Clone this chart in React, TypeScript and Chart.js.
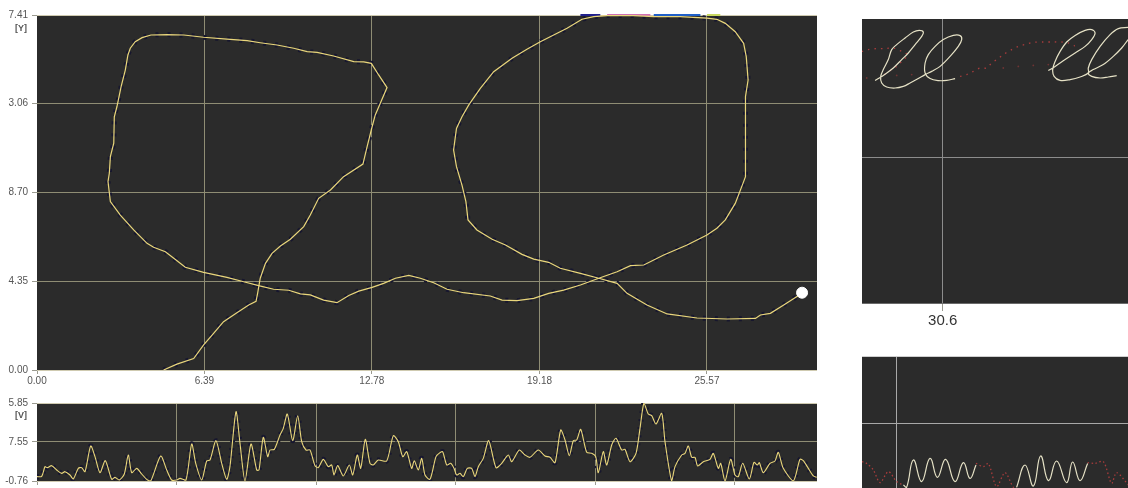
import React, { useEffect, useRef } from "react";
import { Chart, registerables } from "chart.js";

Chart.register(...registerables);

const mainXTicks = [0, 6.39, 12.78, 19.18, 25.57];
const mainXLabels = ["0.00", "6.39", "12.78", "19.18", "25.57"];
const mainYTicks = [0, 4.35, 8.7, 13.06, 17.41];
const mainYLabels = ["0.00", "4.35", "8.70", "3.06", "7.41"];

const pathX = [4.83,5.34,5.98,6.36,6.74,7.12,7.63,8.08,8.36,8.42,8.52,8.72,8.97,9.29,9.67,10.18,10.43,10.75,11.2,11.7,12.44,12.6,12.79,12.91,13.36,13.04,12.76,12.47,12.09,11.32,10.69,10.31,9.8,9.16,8.52,8.02,7.25,6.36,5.6,4.96,4.35,4.01,3.75,3.56,3.47,3.37,3.21,3.05,2.95,2.93,2.8,2.76,2.71,2.8,3.18,3.69,4.2,4.45,4.9,5.22,5.66,6.36,7.25,7.89,8.46,9.03,9.61,10.05,10.43,10.94,11.45,11.9,12.28,12.79,13.23,13.68,14.19,14.63,15.14,15.65,16.28,17.3,17.75,18.32,18.96,19.53,20.1,20.74,21.44,22.14,22.65,23.16,23.92,24.81,25.57,25.95,26.27,26.65,26.97,27.04,27.04,27.14,27.07,26.97,26.65,26.27,25.95,25.57,24.55,23.54,22.77,21.76,21.25,20.8,20.23,19.21,18.7,18.13,17.43,16.92,16.48,16.22,16.01,15.9,16.01,16.22,16.37,16.45,16.79,17.37,17.88,18.51,18.96,19.53,19.97,20.74,21.44,22.14,22.52,23.28,24.05,25.19,26.34,27.42,27.61,27.99,28.5,29.2];
const pathY = [0,0.29,0.56,1.23,1.8,2.37,2.81,3.19,3.37,3.76,4.5,5.23,5.72,6.08,6.41,7.03,7.6,8.42,8.83,9.48,10.1,10.95,11.93,12.51,13.85,14.47,15.04,15.11,15.12,15.4,15.58,15.61,15.78,15.94,16.05,16.15,16.23,16.32,16.43,16.45,16.43,16.3,16.1,15.78,15.45,14.71,13.9,12.91,12.42,11.12,10.46,9.65,9.24,8.26,7.6,6.87,6.21,6.02,5.8,5.48,5.04,4.79,4.54,4.33,4.14,3.96,3.91,3.73,3.68,3.43,3.3,3.65,3.87,4.05,4.25,4.5,4.64,4.5,4.28,3.96,3.79,3.63,3.43,3.4,3.51,3.76,3.92,4.17,4.5,4.82,5.12,5.15,5.64,6.13,6.62,6.95,7.36,8.17,9.24,9.48,13.41,14.22,15.37,16.02,16.59,17,17.2,17.26,17.33,17.33,17.38,17.38,17.33,17.2,16.76,16.1,15.73,15.29,14.63,13.81,13,12.42,11.85,10.79,9.97,9.07,8.26,7.36,6.87,6.41,6.13,5.67,5.44,5.28,4.99,4.74,4.5,4.25,3.76,3.19,2.75,2.55,2.5,2.53,2.7,2.78,3.19,3.76];
const endDotX = [29.2];
const endDotY = [3.79];
const edgeNavyX = [20.74, 21.5];
const edgePinkX = [21.76, 23.41];
const edgeBlueX = [23.54, 25.32];
const edgeLimeX = [25.57, 26.08];
const edgeY = [17.41, 17.41];

const stripXTicks = [0, 139.4, 279, 418.5, 558, 697.6];
const stripYTicks = [-0.76, 27.55, 55.85];
const stripYLabels = ["-0.76", "7.55", "5.85"];

const signalX = [0,4.7,8,10.3,14.7,19.7,24.7,28,33,36.3,41.3,44.7,48,53.7,58,63,68.3,74.7,78,82.3,87.3,91.3,94.7,99.7,104.7,109.7,113.7,123.7,129.7,134.7,139.7,143,149,154.7,158.7,164.7,169.7,173,179,184.7,189.7,193,199,203,208,214,219.7,222,226.3,230.7,233,237.3,243,246.3,250.3,255.7,260.7,264.7,269,273,278,281.3,286.3,291.3,294.7,297,300.7,306.3,312.3,315.7,320.3,323.7,328.3,333,336.3,341.3,349.7,356.3,361.3,365.7,369.7,374.7,377.3,381.3,384.7,388,393,399,403,405.7,409.7,413.7,417,419.7,423,426.3,430.3,434.7,438,441.3,446.3,451.7,459,464.7,471.3,474.7,482.3,488,493,501.3,508,513,518,523.7,528,532.3,536.3,539.7,543.7,549.7,554.7,558.7,561.3,566.3,569.7,574.7,579,584.7,588,593,599,603,607,611.3,614.7,619,624.7,628,634.7,638,644.7,648,651.3,654.7,658,660.7,666.3,673,676.3,681.3,683.7,688,693.7,698,701.3,705.7,712.3,717,720.3,722.3,726.3,733,738,741.3,746.3,756.3,763,766.3,771.3,776.3,779.7];
const signalY = [2.39,2.63,9.64,8.92,10.37,7.22,4.8,6.01,3.59,0.69,8.43,8.92,6.01,24.64,16.9,5.29,13.98,0.45,1.9,-0.03,4.32,18.11,5.29,8.43,4.32,0.45,-0.76,17.38,7.22,-0.03,-0.03,1.18,-0.03,26.09,12.06,-0.03,13.75,14.48,28.51,12.06,0.45,10,49.56,26.57,-0.76,26.09,7.22,7.22,30.93,16.9,21.74,22.22,32.62,37.46,47.86,28.51,46.65,27.78,21.74,21.74,10.37,8.92,14.96,9.64,10.85,3.59,10.37,2.87,10.85,3.59,18.11,8.43,29.48,12.06,10.85,14.48,13.75,32.14,27.78,16.9,20.53,8.43,13.98,7.22,15.69,3.59,0.45,16.9,19.8,20.53,10.85,12.06,8.43,3.59,4.8,2.39,8.43,8.43,2.39,9.64,15.69,28.51,8.92,12.06,18.11,13.27,21.74,18.11,16.42,21.74,17.38,16.42,12.54,36.25,28.99,17.62,28.51,28.99,36.74,20.04,19.32,16.9,5.29,20.53,10.85,25.37,30.2,21.74,22.22,13.27,19.32,37.46,55.85,47.86,46.65,40.6,48.35,27.78,-0.76,9.64,18.11,19.32,24.64,16.42,16.42,10.13,13.27,14.96,19.32,8.43,12.06,-0.76,14.96,3.59,2.39,12.06,0.69,12.79,10.85,12.54,5.29,12.06,13.75,20.04,8.43,-0.76,14.96,13.98,8.43,2.87,1.9];

const detailTopXTicks = [30.6];
const detailTopYTicks = [0, 7.3];

const strokeAX = [27.22,27.63,28.13,28.55,28.88,29.22,29.55,29.63,29.43,29.13,28.72,28.3,28.05,27.88,27.63,27.5,27.55,27.8,28.22,28.63,28.97,29.38,29.72,30.05,30.47,30.97,31.38,31.55,31.47,31.13,30.63,30.22,29.88,29.72,29.72,29.97,30.38,30.8,31.22];
const strokeAY = [11.13,11.38,11.75,12.17,12.5,12.92,13.33,13.55,13.63,13.55,13.25,12.92,12.67,12.17,11.67,11.33,11,10.8,10.75,10.83,11,11.22,11.42,11.58,11.83,12.33,12.83,13.17,13.37,13.38,13.17,12.83,12.42,12,11.5,11.22,11.12,11.13,11.22];
const strokeBX = [35.88,36.22,36.72,37.22,37.72,38.05,38.22,38.05,37.72,37.22,36.8,36.47,36.22,36.1,36.17,36.47,36.97,37.47,37.88,37.88,38.05,38.47,38.97,39.38,39.87];
const strokeBY = [11.62,11.83,12.17,12.5,12.83,13.17,13.5,13.67,13.63,13.38,13.05,12.58,12.08,11.67,11.33,11.13,11.17,11.3,11.5,11.75,12.17,12.83,13.42,13.72,13.78];
const strokeCX = [39.87,39.55,39.13,38.63,38.13,37.88,38.05,38.47,38.88,39.3];
const strokeCY = [13.17,12.75,12.33,11.92,11.67,11.5,11.33,11.25,11.3,11.37];
const trailAX = [26.55,26.88,27.3,27.72,28.13,28.47,28.72,28.88,28.63,28.3,27.97,27.63];
const trailAY = [12.58,12.67,12.72,12.72,12.75,12.62,12.5,12.38,12.17,11.83,11.62,11.38];
const trailBX = [31.47,31.8,32.13,32.47,32.8,33.05,33.38,33.63,34.05,34.38,34.8,35.13,35.63,36.13,36.55,36.88,37.17,37.22];
const trailBY = [11.33,11.42,11.58,11.75,11.75,12,12.22,12.42,12.67,12.83,12.95,13.03,13.05,13.05,13.05,13,12.88,12.67];
const specksX = [26.8,28.3,29.05,33.63,34.38,35.13,35.88];
const specksY = [11.25,11.38,11.42,11.75,11.83,11.88,11.92];

const detailBottomXTicks = [1.72];
const detailBottomYTicks = [3.23, 6.6];
const red1X = [0,0.23,0.57,0.9,1.32,1.73,2.07];
const red1Y = [1.32,1.23,0.9,0.27,0.82,0.32,0.15];
const white1X = [2.07,2.23,2.57,2.98,3.4,3.77,4.18,4.65,5.07,5.4,5.7];
const white1Y = [0.15,0.03,1.4,0.32,1.48,0.53,1.43,0.32,1.27,0.48,1.15];
const red2X = [5.7,6.07,6.32,6.73,7.15,7.57,7.73];
const red2Y = [1.23,1.07,1.23,0.07,0.77,0.03,0.07];
const white2X = [7.73,8.15,8.57,8.93,9.32,9.73,10.23,10.53,10.9,11.28];
const white2Y = [0.03,1.15,0.1,1.6,0.37,1.35,0.27,1.3,0.37,1.23];
const red3X = [11.28,11.65,12.07,12.48,12.73,13.32];
const red3Y = [1.27,1.23,1.32,0.23,0.77,0.15];

const PANEL = "#2b2b2b";
const GRID = "#8f8d74";
const EDGE = "#cfcab0";
const TRACE = "#e9d67c";
const INK = "#e6e2c6";
const RED = "#a83c3c";
const HALO = "#16162e";
const FONT = "'Liberation Sans', Arial, sans-serif";

const zip = (xs: number[], ys: number[]) => xs.map((x, i) => ({ x, y: ys[i] }));

const panelFill = {
  id: "panelFill",
  beforeDraw(chart: any) {
    const { ctx, chartArea: a } = chart;
    ctx.save();
    ctx.fillStyle = PANEL;
    ctx.fillRect(a.left, a.top, a.right - a.left, a.bottom - a.top);
    ctx.restore();
  },
};

const line = (data: any[], color: string, width = 1.2, extra: any = {}) => ({
  data,
  showLine: true,
  borderColor: color,
  backgroundColor: color,
  borderWidth: width,
  pointRadius: 0,
  tension: 0,
  ...extra,
});

function axis(o: {
  min: number;
  max: number;
  ticks: number[];
  labels?: string[];
  size?: number;
  thickness: number;
  tickLength?: number;
  padding?: number;
  grid?: (v: number) => string;
  tickColor?: string;
  labelColor?: string;
}) {
  return {
    type: "linear",
    min: o.min,
    max: o.max,
    afterBuildTicks: (s: any) => {
      s.ticks = o.ticks.map((value) => ({ value }));
    },
    afterFit: (s: any) => {
      if (s.isHorizontal()) s.height = o.thickness;
      else s.width = o.thickness;
    },
    border: { display: false },
    grid: {
      color: (c: any) => (o.grid ? o.grid(c.tick?.value) : GRID),
      lineWidth: 1,
      drawTicks: !!o.tickLength,
      tickLength: o.tickLength ?? 0,
      tickColor: o.tickColor ?? "#9a9a90",
    },
    ticks: {
      display: !!o.labels,
      autoSkip: false,
      maxRotation: 0,
      padding: o.padding ?? 1,
      color: o.labelColor ?? "#555555",
      font: { family: FONT, size: o.size ?? 10 },
      callback: (_: any, i: number) => (o.labels ? o.labels[i] : ""),
    },
  };
}

function useChart(build: () => any) {
  const ref = useRef<HTMLCanvasElement>(null);
  useEffect(() => {
    const chart = new Chart(ref.current!, build());
    return () => chart.destroy();
  }, []);
  return ref;
}

const base = (padding: any, x: any, y: any) => ({
  animation: false,
  responsive: false,
  layout: { padding, autoPadding: false },
  plugins: { legend: { display: false }, tooltip: { enabled: false } },
  scales: { x, y },
});

function Panel({ left, top, width, height, build }: any) {
  const ref = useChart(build);
  return (
    <canvas
      ref={ref}
      width={width}
      height={height}
      style={{ position: "absolute", left, top, width, height }}
    />
  );
}

const notZero = (v: number) => (v === 0 ? "rgba(0,0,0,0)" : GRID);

const mainConfig = () => ({
  type: "scatter",
  plugins: [panelFill],
  data: {
    datasets: [
      line(zip(endDotX, endDotY), "#ffffff", 1, { pointRadius: 5.5 }),
      line(zip(pathX, pathY), TRACE, 1.2),
      line(zip(edgeNavyX, edgeY), "#20208c", 2, { clip: false }),
      line(zip(edgePinkX, edgeY), "#d070b4", 2, { clip: false }),
      line(zip(edgeBlueX, edgeY), "#2060c8", 2, { clip: false }),
      line(zip(edgeLimeX, edgeY), "#c8d860", 2, { clip: false }),
      line(zip(pathX, pathY), HALO, 5, { borderDash: [3, 9] }),
    ],
  },
  options: base(
    { top: 15, right: 13, left: 0, bottom: 0 },
    axis({ min: 0, max: 29.77, ticks: mainXTicks, labels: mainXLabels, thickness: 25, tickLength: 4, padding: 1, grid: notZero }),
    axis({
      min: 0, max: 17.41, ticks: mainYTicks, labels: mainYLabels, thickness: 37, tickLength: 5, padding: 4,
      grid: (v) => (v === 0 || v === 17.41 ? EDGE : GRID),
    })
  ),
});

const stripConfig = () => ({
  type: "scatter",
  plugins: [panelFill],
  data: {
    datasets: [
      line(zip(signalX, signalY), TRACE, 1.1, { tension: 0.25 }),
      line(zip(signalX, signalY), HALO, 5, { borderDash: [2, 6], tension: 0.25 }),
    ],
  },
  options: base(
    { top: 18, right: 13, left: 0, bottom: 0 },
    axis({ min: 0, max: 780, ticks: stripXTicks, thickness: 19, tickLength: 4, grid: notZero }),
    axis({
      min: -0.76, max: 55.85, ticks: stripYTicks, labels: stripYLabels, thickness: 37, tickLength: 5, padding: 4,
      grid: (v) => (v === 27.55 ? GRID : EDGE),
    })
  ),
});

const detailTopConfig = () => ({
  type: "scatter",
  plugins: [panelFill],
  data: {
    datasets: [
      line(zip(strokeAX, strokeAY), INK, 1.2, { tension: 0.35 }),
      line(zip(strokeBX, strokeBY), INK, 1.2, { tension: 0.35 }),
      line(zip(strokeCX, strokeCY), INK, 1.2, { tension: 0.35 }),
      line(zip(trailAX, trailAY), RED, 1.3, { borderDash: [1.5, 5], tension: 0.3 }),
      line(zip(trailBX, trailBY), RED, 1.3, { borderDash: [1.5, 5], tension: 0.3 }),
      line(zip(specksX, specksY), "#6e3434", 0, { showLine: false, pointRadius: 0.9 }),
    ],
  },
  options: base(
    0,
    axis({
      min: 26.565, max: 39.865, ticks: detailTopXTicks, labels: ["30.6"], size: 15,
      thickness: 26, tickLength: 8, padding: 1, grid: () => "#8c8c8c", labelColor: "#333333",
    }),
    axis({ min: 0, max: 14.2, ticks: detailTopYTicks, thickness: 0, grid: (v) => (v === 0 ? "#6a6a6a" : "#8c8c8c") })
  ),
});

const detailBottomConfig = () => ({
  type: "scatter",
  plugins: [panelFill],
  data: {
    datasets: [
      line(zip(white1X, white1Y), INK, 1.2, { tension: 0.45 }),
      line(zip(white2X, white2Y), INK, 1.2, { tension: 0.45 }),
      line(zip(red1X, red1Y), RED, 1.3, { borderDash: [1.5, 2.5], tension: 0.3 }),
      line(zip(red2X, red2Y), RED, 1.3, { borderDash: [1.5, 2.5], tension: 0.3 }),
      line(zip(red3X, red3Y), RED, 1.3, { borderDash: [1.5, 2.5], tension: 0.3 }),
    ],
  },
  options: base(
    0,
    axis({ min: 0, max: 13.3, ticks: detailBottomXTicks, thickness: 0, grid: () => "#a8a8a8" }),
    axis({ min: 0, max: 6.6, ticks: detailBottomYTicks, thickness: 0, grid: (v) => (v === 6.6 ? "#cfcfcf" : "#a8a8a8") })
  ),
});

const unitStyle: React.CSSProperties = {
  position: "absolute",
  left: 15,
  font: `bold 9px ${FONT}`,
  color: "#555555",
};

export default function App() {
  useEffect(() => {
    document.body.style.background = "#ffffff";
  }, []);
  return (
    <div style={{ position: "absolute", left: 0, top: 0, width: 1128, height: 488, overflow: "hidden", background: "#ffffff" }}>
      <Panel left={0} top={0} width={830} height={395} build={mainConfig} />
      <Panel left={0} top={385} width={830} height={115} build={stripConfig} />
      <Panel left={862} top={19} width={266} height={310} build={detailTopConfig} />
      <Panel left={862} top={356} width={266} height={132} build={detailBottomConfig} />
      <div style={{ ...unitStyle, top: 23 }}>[Y]</div>
      <div style={{ ...unitStyle, top: 410 }}>[V]</div>
    </div>
  );
}
